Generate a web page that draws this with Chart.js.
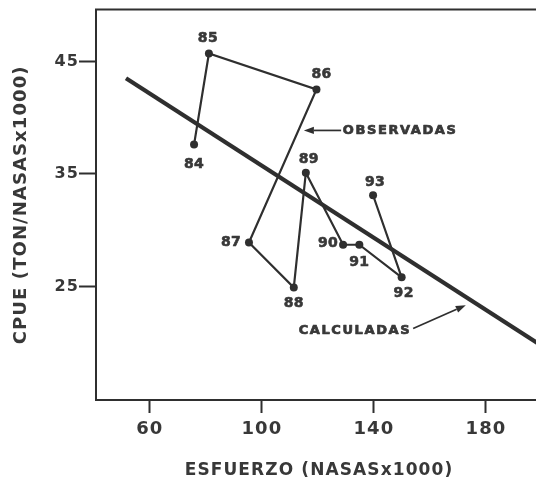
<!DOCTYPE html>
<html>
<head>
<meta charset="utf-8">
<script src="https://cdn.jsdelivr.net/npm/chart.js@4.4.1/dist/chart.umd.min.js"></script>
<style>
  html, body { margin: 0; padding: 0; background: #ffffff; overflow: hidden; width: 536px; height: 483px; }
  #wrap { position: absolute; left: 0; top: 0; width: 548px; height: 483px; }
</style>
</head>
<body>
<div id="wrap"><canvas id="c" width="548" height="483"></canvas></div>
<script>
// Observed CPUE against fishing effort, year by year (1984-1993)
const years       = ['84', '85', '86', '87', '88', '89', '90', '91', '92', '93'];
const esfuerzoObs = [75.8, 81.1, 119.5, 95.4, 111.4, 115.7, 129.0, 134.8, 149.9, 139.7];
const cpueObs     = [37.6, 45.7, 42.5, 28.9, 24.9, 35.1, 28.7, 28.7, 25.8, 33.1];

// Fitted linear relation (calculated CPUE)
const esfuerzoCalc = [51.5, 200];
const cpueCalc     = [43.5, 19.7];

// Axis ticks
const xTickValues = [60, 100, 140, 180];
const yTickValues = [25, 35, 45];

const INK = '#2f2f2f';
const TEXT = '#383838';
const FONT = '"DejaVu Sans", "Liberation Sans", sans-serif';

// Where each year label sits relative to its point (pixels)
const labelPlacement = {
  '84': { dx: 0,  dy: 20,  align: 'center' },
  '85': { dx: -1, dy: -15, align: 'center' },
  '86': { dx: 5,  dy: -15, align: 'center' },
  '87': { dx: -8, dy: 0,   align: 'right'  },
  '88': { dx: 0,  dy: 16,  align: 'center' },
  '89': { dx: 3,  dy: -13, align: 'center' },
  '90': { dx: -5, dy: -1,  align: 'right'  },
  '91': { dx: 0,  dy: 18,  align: 'center' },
  '92': { dx: 2,  dy: 16,  align: 'center' },
  '93': { dx: 2,  dy: -13, align: 'center' }
};

// Callout labels with arrows, anchored in data units
const callouts = [
  { text: 'OBSERVADAS', align: 'left',  tx: 128.9, ty: 38.86, fx: 128.3, fy: 38.86, ax: 115.0, ay: 38.86 },
  { text: 'CALCULADAS', align: 'right', tx: 153.3, ty: 21.11, fx: 154.0, fy: 21.25, ax: 172.8, ay: 23.33 }
];

function arrow(ctx, x0, y0, x1, y1) {
  const ang = Math.atan2(y1 - y0, x1 - x0);
  const len = 10, half = 3.6;
  const bx = x1 - len * Math.cos(ang), by = y1 - len * Math.sin(ang);
  ctx.beginPath();
  ctx.moveTo(x0, y0);
  ctx.lineTo(bx, by);
  ctx.stroke();
  ctx.beginPath();
  ctx.moveTo(x1, y1);
  ctx.lineTo(bx + half * Math.sin(ang), by - half * Math.cos(ang));
  ctx.lineTo(bx - half * Math.sin(ang), by + half * Math.cos(ang));
  ctx.closePath();
  ctx.fill();
}

// heavy lettering: fill plus a thin outline of the same colour
function heavyText(ctx, text, px, py, weight) {
  ctx.lineWidth = weight;
  ctx.lineJoin = 'round';
  ctx.strokeStyle = ctx.fillStyle;
  ctx.strokeText(text, px, py);
  ctx.fillText(text, px, py);
}

const decorations = {
  id: 'decorations',
  beforeDraw(chart) {
    chart.ctx.letterSpacing = '1.1px';
  },
  afterDatasetsDraw(chart) {
    const { ctx, chartArea: a, scales: { x, y } } = chart;
    ctx.save();
    // top and right sides of the frame
    ctx.strokeStyle = INK;
    ctx.lineWidth = 2;
    ctx.beginPath();
    ctx.moveTo(a.left - 1, a.top);
    ctx.lineTo(a.right, a.top);
    ctx.lineTo(a.right, a.bottom);
    ctx.stroke();

    // year labels
    const meta = chart.getDatasetMeta(0);
    ctx.fillStyle = TEXT;
    ctx.font = 'bold 14px ' + FONT;
    ctx.letterSpacing = '0.3px';
    ctx.textBaseline = 'middle';
    meta.data.forEach((pt, i) => {
      const p = labelPlacement[years[i]];
      ctx.textAlign = p.align;
      heavyText(ctx, years[i], pt.x + p.dx, pt.y + p.dy, 0.6);
    });

    // callouts
    ctx.font = 'bold 13px ' + FONT;
    ctx.letterSpacing = '1.6px';
    callouts.forEach(c => {
      ctx.textAlign = c.align;
      ctx.fillStyle = TEXT;
      heavyText(ctx, c.text, x.getPixelForValue(c.tx), y.getPixelForValue(c.ty), 0.7);
      ctx.strokeStyle = INK;
      ctx.fillStyle = INK;
      ctx.lineWidth = 1.7;
      arrow(ctx, x.getPixelForValue(c.fx), y.getPixelForValue(c.fy),
                 x.getPixelForValue(c.ax), y.getPixelForValue(c.ay));
    });
    ctx.restore();
  }
};

new Chart(document.getElementById('c'), {
  type: 'scatter',
  data: {
    datasets: [
      {
        label: 'Observadas',
        data: esfuerzoObs.map((e, i) => ({ x: e, y: cpueObs[i] })),
        showLine: true,
        borderColor: INK,
        borderWidth: 2.2,
        pointRadius: 4,
        pointBackgroundColor: INK,
        pointBorderWidth: 0,
        tension: 0
      },
      {
        label: 'Calculadas',
        data: esfuerzoCalc.map((e, i) => ({ x: e, y: cpueCalc[i] })),
        showLine: true,
        borderColor: INK,
        borderWidth: 4.2,
        pointRadius: 0,
        tension: 0
      }
    ]
  },
  options: {
    responsive: false,
    animation: false,
    events: [],
    layout: { padding: { top: 9, right: 6, left: 0, bottom: 0 } },
    plugins: { legend: { display: false }, tooltip: { enabled: false } },
    scales: {
      x: {
        type: 'linear',
        min: 40.8,
        max: 200,
        afterBuildTicks: s => { s.ticks = xTickValues.map(v => ({ value: v })); },
        afterFit: s => { s.height = 83; },
        grid: { drawOnChartArea: false, drawTicks: true, tickLength: 13, tickWidth: 2, tickColor: INK },
        border: { display: true, width: 2, color: INK },
        ticks: { autoSkip: false, maxRotation: 0, padding: 6, color: TEXT,
                 font: { family: FONT, size: 18, weight: 'bold' } },
        title: { display: true, text: 'ESFUERZO (NASASx1000)', color: TEXT, padding: { top: 0, bottom: 2 },
                 font: { family: FONT, size: 17, weight: 'bold' } }
      },
      y: {
        type: 'linear',
        min: 14.9,
        max: 49.6,
        afterBuildTicks: s => { s.ticks = yTickValues.map(v => ({ value: v })); },
        afterFit: s => { s.width = 96; },
        grid: { drawOnChartArea: false, drawTicks: true, tickLength: 17, tickWidth: 2, tickColor: INK },
        border: { display: true, width: 2, color: INK },
        ticks: { autoSkip: false, padding: 0, color: TEXT, font: { family: FONT, size: 16, weight: 'bold' } },
        title: { display: true, text: 'CPUE (TON/NASASx1000)', color: TEXT, padding: { top: 11, bottom: 0 },
                 font: { family: FONT, size: 18, weight: 'bold' } }
      }
    }
  },
  plugins: [decorations]
});
</script>
</body>
</html>
